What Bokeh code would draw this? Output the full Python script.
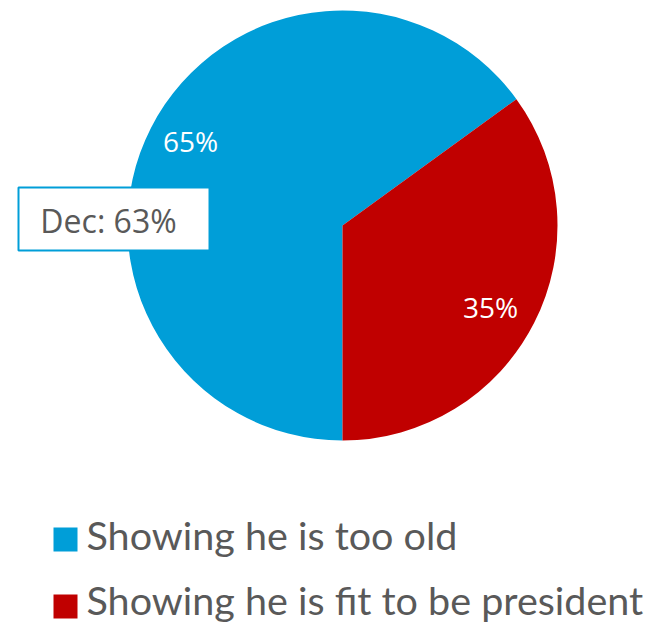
import math
from bokeh.plotting import figure
from bokeh.models import Range1d, ColumnDataSource
from bokeh.core.properties import value
from bokeh.embed import file_html
from bokeh.resources import INLINE

categories = ["Showing he is too old", "Showing he is fit to be president"]
shares = [65, 35]
colors = ["#009ED8", "#C00000"]
pct_labels = ["65%", "35%"]
callout_text = "Dec: 63%"

W, H = 652, 625
p = figure(width=W, height=H, output_backend="svg", toolbar_location=None,
           x_range=Range1d(0, W), y_range=Range1d(0, H),
           min_border=0)
p.axis.visible = False
p.grid.visible = False
p.outline_line_color = None
p.background_fill_color = "white"

def Y(img_y):
    return H - img_y

cx, cy, r = 342, Y(225), 215
# red slice starts at bottom and goes counterclockwise; blue follows
red_start = -math.pi / 2
red_end = red_start + shares[1] / 100 * 2 * math.pi
blue_start = red_end
blue_end = red_start + 2 * math.pi
src = ColumnDataSource(dict(start=[blue_start, red_start], end=[blue_end, red_end],
                            color=colors))
p.wedge(x=cx, y=cy, radius=r, start_angle="start", end_angle="end",
        color="color", line_color=None, source=src)

# percentage labels
p.text(x=[190, 490], y=[Y(140), Y(306)], text=pct_labels, text_color="white",
       text_font=value("Open Sans"), text_font_size="28px",
       text_align="center", text_baseline="middle")

# callout box
p.rect(x=[113.5], y=[Y(218.5)], width=191, height=63, fill_color="white",
       line_color="#009ED8", line_width=2)
p.text(x=[108], y=[Y(220)], text=[callout_text], text_color="#595959",
       text_font=value("Open Sans"), text_font_size="32px",
       text_align="center", text_baseline="middle")

# legend
leg_y = [Y(539), Y(606)]
p.rect(x=[65, 65], y=leg_y, width=24, height=24, fill_color=colors, line_color=None)
p.text(x=[86, 86], y=[Y(534), Y(599)], text=categories, text_color="#595959",
       text_font=value("Lato"), text_font_size="39.5px",
       text_align="left", text_baseline="alphabetic")

open("out.html", "w").write(file_html(p, INLINE))
